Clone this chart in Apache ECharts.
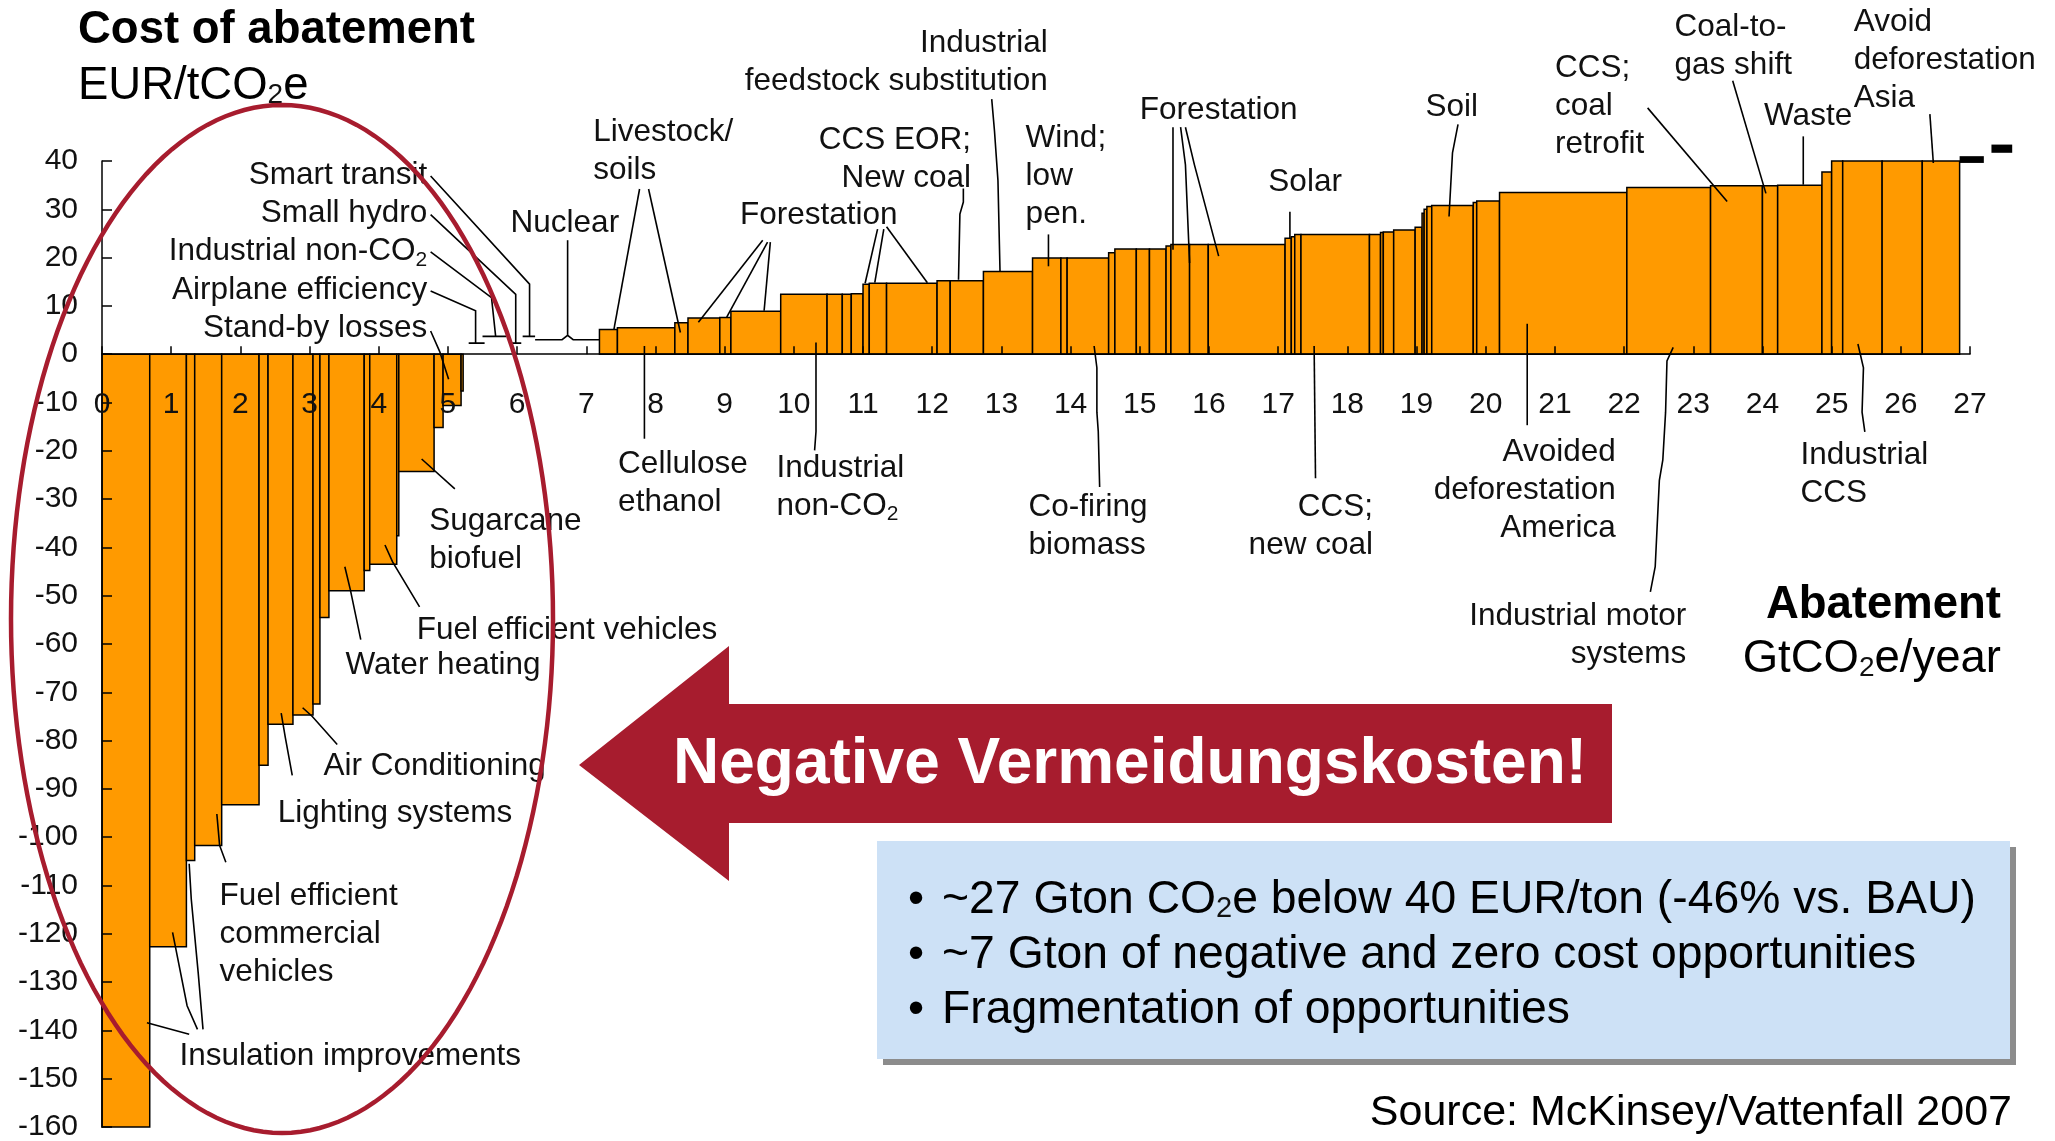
<!DOCTYPE html>
<html>
<head>
<meta charset="utf-8">
<title>Cost of abatement</title>
<script src="https://cdn.jsdelivr.net/npm/echarts@6/dist/echarts.min.js"></script>
<style>
  html, body { margin: 0; padding: 0; background: #fff; }
  #chart { width: 2055px; height: 1141px; }
</style>
</head>
<body>
<div id="chart"></div>
<script>
// =============================================================================
// Abatement cost curve (McKinsey/Vattenfall 2007) — bar width = GtCO2e/year,
// bar height = EUR/tCO2e. Bars laid out left to right by cumulative width.
// =============================================================================

const FONT = '"Liberation Sans", Arial, sans-serif';
const INK = "#111";
const ORANGE = "#ff9a00";
const RED = "#a71c2e";

// --- data --------------------------------------------------------------------

const barWidths = [
  0.69, 0.53, 0.12, 0.39, 0.54, 0.13, 0.36, 0.29, 0.10, 0.13, 0.51, 0.08, 0.39, 0.03, 0.51, 0.13, 0.26, 0.03,
  1.97,
  0.26, 0.83, 0.19, 0.46, 0.16, 0.72, 0.67, 0.22, 0.13, 0.17, 0.09, 0.25, 0.73, 0.19, 0.48, 0.71, 0.41, 0.09,
  0.60, 0.09, 0.31, 0.19, 0.24, 0.07, 0.27, 0.27, 1.11, 0.09, 0.05, 0.09, 0.99, 0.16, 0.04, 0.15, 0.31, 0.10,
  0.03, 0.04, 0.07, 0.60, 0.05, 0.33, 1.84, 1.21, 0.75, 0.22, 0.64, 0.14, 0.16, 0.57, 0.58, 0.54,
];
const barCosts = [
  -160, -122.7, -104.8, -101.7, -93.3, -85.1, -76.6, -74.7, -72.4, -54.5, -49, -44.8, -43.5, -37.6, -24.3, -15.2, -10.6, -7.6,
  0,
  5.1, 5.5, 6.5, 7.5, 7.6, 8.9, 12.4, 12.4, 12.4, 12.5, 14.5, 14.7, 14.7, 15.2, 15.2, 17.1, 19.9, 19.9,
  19.9, 21.0, 21.8, 21.8, 21.8, 22.4, 22.7, 22.7, 22.7, 24.0, 24.3, 24.8, 24.8, 24.8, 25.2, 25.3, 25.7, 26.3,
  29.2, 30.0, 30.6, 30.8, 31.4, 31.7, 33.5, 34.5, 34.9, 34.9, 35.0, 37.7, 40, 40, 40, 40,
];

// x tick labels (GtCO2e/year), drawn just under the zero line
const xTicks = [0, 1, 2, 3, 4, 5, 6, 7, 8, 9, 10, 11, 12, 13, 14, 15, 16, 17, 18, 19, 20, 21, 22, 23, 24, 25, 26, 27];

// small black marks past the end of the curve: [x0, x1, y0, y1]
const endMarks = [[26.85, 27.2, 39.6, 41.0], [27.31, 27.61, 41.7, 43.4]];

// callout texts: anchor (x, y of first line centre) in axis units
const notes = [
  { x: 4.70, y: 37.0, t: "Smart transit", a: "right" },
  { x: 4.70, y: 29.1, t: "Small hydro", a: "right" },
  { x: 4.70, y: 21.2, t: "Industrial non-CO{sub|2}", a: "right" },
  { x: 4.70, y: 13.3, t: "Airplane efficiency", a: "right" },
  { x: 4.70, y: 5.4, t: "Stand-by losses", a: "right" },
  { x: 6.69, y: 27.2, t: "Nuclear", a: "center" },
  { x: 7.10, y: 45.9, t: "Livestock/\nsoils", a: "left" },
  { x: 10.36, y: 28.8, t: "Forestation", a: "center" },
  { x: 12.56, y: 44.3, t: "CCS EOR;\nNew coal", a: "right" },
  { x: 13.67, y: 64.4, t: "Industrial\nfeedstock substitution", a: "right" },
  { x: 13.35, y: 44.6, t: "Wind;\nlow\npen.", a: "left" },
  { x: 16.14, y: 50.5, t: "Forestation", a: "center" },
  { x: 17.39, y: 35.6, t: "Solar", a: "center" },
  { x: 19.51, y: 51.1, t: "Soil", a: "center" },
  { x: 21.00, y: 59.2, t: "CCS;\ncoal\nretrofit", a: "left" },
  { x: 22.73, y: 67.7, t: "Coal-to-\ngas shift", a: "left" },
  { x: 24.66, y: 49.2, t: "Waste", a: "center" },
  { x: 25.32, y: 68.8, t: "Avoid\ndeforestation\nAsia", a: "left" },
  { x: 7.46, y: -22.8, t: "Cellulose\nethanol", a: "left" },
  { x: 9.75, y: -23.6, t: "Industrial\nnon-CO{sub|2}", a: "left" },
  { x: 13.39, y: -31.8, t: "Co-firing\nbiomass", a: "left" },
  { x: 18.37, y: -31.8, t: "CCS;\nnew coal", a: "right" },
  { x: 21.88, y: -20.4, t: "Avoided\ndeforestation\nAmerica", a: "right" },
  { x: 22.90, y: -54.3, t: "Industrial motor\nsystems", a: "right" },
  { x: 24.55, y: -20.9, t: "Industrial\nCCS", a: "left" },
  { x: 4.73, y: -34.5, t: "Sugarcane\nbiofuel", a: "left" },
  { x: 4.55, y: -57.1, t: "Fuel efficient vehicles", a: "left" },
  { x: 3.52, y: -64.4, t: "Water heating", a: "left" },
  { x: 3.20, y: -85.3, t: "Air Conditioning", a: "left" },
  { x: 2.54, y: -95.1, t: "Lighting systems", a: "left" },
  { x: 1.70, y: -112.2, t: "Fuel efficient\ncommercial\nvehicles", a: "left" },
  { x: 1.12, y: -145.4, t: "Insulation improvements", a: "left" },
];

// leader lines from callouts to bars, in axis units
const leaders = [
  [[4.75, 36.9], [6.18, 14.5], [6.18, 3.7], [6.08, 3.7], [6.26, 3.7]],
  [[4.75, 28.9], [5.98, 12.4], [5.98, 2.3], [5.89, 2.3], [6.06, 2.3]],
  [[4.75, 21.2], [5.63, 11.7], [5.69, 3.7], [5.50, 3.7], [5.84, 3.7]],
  [[4.75, 13.1], [5.40, 9.0], [5.40, 2.3], [5.30, 2.3], [5.53, 2.3]],
  [[4.75, 4.8], [4.88, 0.6], [5.01, -5.2]],
  [[6.73, 23.6], [6.73, 4.0]],
  [[6.26, 3.0], [6.65, 3.0], [6.73, 3.9], [6.81, 3.0], [7.19, 3.0]],
  [[7.40, 5.2], [7.77, 34.2]],
  [[7.90, 34.2], [8.36, 4.5]],
  [[9.55, 23.6], [8.62, 6.6]],
  [[9.62, 23.2], [9.03, 7.7]],
  [[9.66, 23.2], [9.57, 9.0]],
  [[11.21, 25.9], [11.03, 14.7]],
  [[11.30, 25.9], [11.17, 14.8]],
  [[11.34, 26.4], [11.93, 14.8]],
  [[12.45, 34.3], [12.45, 31.5], [12.40, 29.0], [12.38, 15.4]],
  [[12.86, 52.8], [12.90, 46.2], [12.95, 36.0], [12.98, 17.1]],
  [[13.68, 24.8], [13.68, 18.2]],
  [[15.48, 47.0], [15.48, 21.6]],
  [[15.59, 47.0], [15.66, 39.2], [15.72, 18.9]],
  [[15.66, 47.0], [15.79, 39.2], [16.14, 20.3]],
  [[17.17, 29.5], [17.17, 24.0]],
  [[19.60, 47.6], [19.52, 41.7], [19.47, 28.5]],
  [[22.34, 51.0], [23.49, 31.6]],
  [[23.57, 56.6], [24.05, 33.3]],
  [[24.59, 45.1], [24.59, 35.1]],
  [[26.42, 49.7], [26.47, 39.6]],
  [[7.84, 1.7], [7.84, -17.5]],
  [[10.32, 2.4], [10.32, -16.0], [10.30, -19.9]],
  [[14.34, 1.7], [14.38, -2.8], [14.38, -12.0], [14.40, -16.0], [14.42, -27.5]],
  [[17.52, 1.7], [17.54, -25.7]],
  [[20.60, 6.3], [20.60, -14.7]],
  [[22.71, 1.4], [22.62, -1.4], [22.60, -12.0], [22.56, -21.9], [22.51, -26.1], [22.45, -44.0], [22.38, -49.2]],
  [[25.38, 2.1], [25.46, -2.8], [25.44, -12.0], [25.48, -16.1]],
  [[4.62, -21.7], [5.10, -27.9]],
  [[4.09, -39.5], [4.20, -43.0], [4.59, -52.3]],
  [[3.51, -44.0], [3.59, -48.8], [3.74, -59.1]],
  [[2.90, -73.2], [3.04, -75.0], [3.40, -80.8]],
  [[2.59, -74.3], [2.65, -79.4], [2.75, -87.2]],
  [[1.66, -95.2], [1.70, -101.7], [1.79, -105.2]],
  [[0.65, -138.4], [1.26, -140.8]],
  [[1.02, -119.7], [1.23, -134.9], [1.38, -139.8]],
  [[1.26, -105.5], [1.29, -112.8], [1.39, -128.0], [1.46, -139.8]],
];

const boxLines = [
  "~27 Gton CO{sub|2}e below 40 EUR/ton (-46% vs. BAU)",
  "~7 Gton of negative and zero cost opportunities",
  "Fragmentation of opportunities",
];

// --- build bar rows from cumulative widths -----------------------------------

const bars = [];
let acc = 0;
barWidths.forEach((w, i) => {
  bars.push([acc, acc + w, barCosts[i]]);
  acc += w;
});

const LH = 38;
const sub = (size) => ({ sub: { fontSize: size, fontFamily: FONT, fill: INK, verticalAlign: "bottom" } });

const chart = echarts.init(document.getElementById("chart"), null, { renderer: "canvas" });

// ellipse outline round the negative-cost part (pixel geometry, not data)
const ell = [];
for (let k = 0; k <= 180; k++) {
  const t = (k / 180) * Math.PI * 2;
  ell.push([282 + 271 * Math.cos(t), 619 + 514 * Math.sin(t)]);
}

chart.setOption({
  animation: false,
  backgroundColor: "#fff",
  grid: { left: 102, right: 85, top: 161, bottom: 14, containLabel: false, outerBoundsMode: "none" },
  xAxis: {
    type: "value", min: 0, max: 27, interval: 1, z: 5,
    axisLine: { onZero: true, lineStyle: { color: "#000", width: 1.5 } },
    axisTick: { inside: true, length: 8, lineStyle: { color: "#000", width: 1.5 } },
    axisLabel: { show: false },
    splitLine: { show: false },
  },
  yAxis: {
    type: "value", min: -160, max: 40, interval: 10, z: 5,
    axisLine: { show: true, onZero: false, lineStyle: { color: "#000", width: 1.5 } },
    axisTick: { show: true, inside: true, length: 10, lineStyle: { color: "#000", width: 1.5 } },
    axisLabel: { margin: 24, color: INK, fontFamily: FONT, fontSize: 30 },
    splitLine: { show: false },
  },
  series: [
    {
      type: "custom", name: "bars", z: 2,
      data: bars,
      encode: { x: [0, 1], y: 2 },
      renderItem: (params, api) => {
        const c = api.value(2);
        if (c === 0) return null;
        const p0 = api.coord([api.value(0), 0]);
        const p1 = api.coord([api.value(1), c]);
        return {
          type: "rect",
          shape: { x: p0[0], y: Math.min(p0[1], p1[1]), width: p1[0] - p0[0], height: Math.abs(p1[1] - p0[1]) },
          style: { fill: ORANGE, stroke: "#000", lineWidth: 1.5 },
        };
      },
    },
    {
      type: "custom", name: "_marks", z: 3, clip: false,
      data: endMarks,
      encode: { x: [0, 1], y: [2, 3] },
      renderItem: (params, api) => {
        const p0 = api.coord([api.value(0), api.value(3)]);
        const p1 = api.coord([api.value(1), api.value(2)]);
        return { type: "rect", shape: { x: p0[0], y: p0[1], width: p1[0] - p0[0], height: p1[1] - p0[1] }, style: { fill: "#000" } };
      },
    },
    {
      type: "custom", name: "_xlabels", z: 8, clip: false,
      data: xTicks.map((v) => [v, 0]),
      renderItem: (params, api) => {
        const p = api.coord([api.value(0), 0]);
        return {
          type: "text", x: p[0], y: p[1] + 51,
          style: { text: String(api.value(0)), fill: INK, fontFamily: FONT, fontSize: 30, align: "center", verticalAlign: "middle" },
        };
      },
    },
    {
      type: "custom", name: "_leaders", z: 6, clip: false,
      data: leaders.map((l, i) => [i]),
      renderItem: (params, api) => ({
        type: "polyline",
        shape: { points: leaders[params.dataIndex].map((p) => api.coord(p)) },
        style: { stroke: "#000", fill: null, lineWidth: 1.6 },
      }),
    },
    {
      type: "custom", name: "_notes", z: 7, clip: false,
      data: notes.map((n, i) => [i]),
      renderItem: (params, api) => {
        const n = notes[params.dataIndex];
        const p = api.coord([n.x, n.y]);
        return {
          type: "text", x: p[0], y: p[1] - LH / 2,
          style: {
            text: n.t, fill: INK, fontFamily: FONT, fontSize: 31.5, lineHeight: LH,
            align: n.a, verticalAlign: "top", rich: sub(21),
          },
        };
      },
    },
  ],
  graphic: [
    { type: "text", x: 78, y: 30, z: 20, style: { text: "Cost of abatement", fill: "#000", fontFamily: FONT, fontWeight: "bold", fontSize: 45.5, verticalAlign: "middle" } },
    { type: "text", x: 78, y: 86, z: 20, style: { text: "EUR/tCO{sub|2}e", fill: "#000", fontFamily: FONT, fontSize: 45.5, verticalAlign: "middle", rich: sub(28) } },
    { type: "text", x: 2001, y: 605, z: 20, style: { text: "Abatement", fill: "#000", fontFamily: FONT, fontWeight: "bold", fontSize: 45.5, align: "right", verticalAlign: "middle" } },
    { type: "text", x: 2001, y: 659, z: 20, style: { text: "GtCO{sub|2}e/year", fill: "#000", fontFamily: FONT, fontSize: 45.5, align: "right", verticalAlign: "middle", rich: sub(28) } },
    // arrow
    { type: "polygon", z: 30, shape: { points: [[579, 765], [729, 646], [729, 704], [1612, 704], [1612, 823], [729, 823], [729, 881]] }, style: { fill: RED } },
    { type: "text", x: 1130, y: 765, z: 31, style: { text: "Negative Vermeidungskosten!", fill: "#fff", fontFamily: FONT, fontWeight: "bold", fontSize: 64, align: "center", verticalAlign: "middle" } },
    // summary box
    { type: "rect", z: 30, shape: { x: 883, y: 847, width: 1133, height: 218 }, style: { fill: "#8c8c8c" } },
    { type: "rect", z: 31, shape: { x: 877, y: 841, width: 1133, height: 218 }, style: { fill: "#cde1f6" } },
    ...boxLines.flatMap((t, i) => [
      { type: "text", x: 908, y: 900 + i * 55, z: 32, style: { text: "•", fill: "#000", fontFamily: FONT, fontSize: 46, verticalAlign: "middle" } },
      { type: "text", x: 942, y: 900 + i * 55, z: 32, style: { text: t, fill: "#000", fontFamily: FONT, fontSize: 46.3, verticalAlign: "middle", rich: sub(29) } },
    ]),
    { type: "text", x: 2012, y: 1113, z: 20, style: { text: "Source: McKinsey/Vattenfall 2007", fill: "#000", fontFamily: FONT, fontSize: 43, align: "right", verticalAlign: "middle" } },
    // ellipse
    { type: "polyline", z: 40, shape: { points: ell }, style: { stroke: RED, fill: null, lineWidth: 4.5 } },
  ],
});
</script>
</body>
</html>
